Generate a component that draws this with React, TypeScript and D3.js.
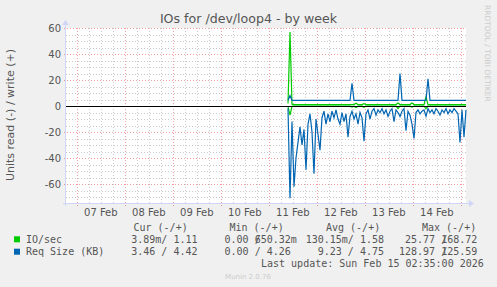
import React from "react";
import * as d3 from "d3";

const WIDTH = 497;
const HEIGHT = 287;

const endTime = new Date(Date.UTC(2026, 1, 15, 2, 35));
const startTime = new Date(endTime.getTime() - 200 * 3600 * 1000);
const dataStart = new Date(Date.UTC(2026, 1, 11, 9, 35));
const stepHours = 1;

// IO/sec write (+)
const ioWrite = [
  2, 57, 1.4, 1.1, 1.1, 1.1, 1.1, 1.1, 1.1, 1.1,
  1.1, 1.1, 1.1, 1.1, 1.1, 1.1, 1.1, 1.1, 1.1, 1.1,
  1.1, 1.1, 1.1, 1.1, 1.1, 1.1, 1.1, 1.1, 1.1, 1.1,
  1.1, 1.1, 1.1, 1.1, 2.2, 1.1, 1.1, 1.1, 1.8, 1.1,
  1.1, 1.1, 1.1, 1.1, 1.1, 1.1, 1.1, 1.1, 1.1, 1.1,
  1.1, 1.1, 1.1, 1.1, 1.1, 2.3, 1.1, 1.1, 1.1, 1.1,
  1.1, 1.1, 2.3, 1.1, 1.1, 1.1, 1.1, 1.1, 1.1, 7,
  1.1, 1.1, 1.1, 1.1, 1.1, 1.1, 1.1, 1.1, 1.1, 1.1,
  1.1, 1.1, 1.1, 1.1, 1.1, 1.1, 1.1, 1.1, 1.1, 1.1,
];
// IO/sec read (-), magnitudes
const ioRead = [
  0.5, 7, 0.2, 0.1, 0.1, 0.1, 0.1, 0.1, 0.1, 0.1,
  0.1, 0.1, 0.1, 0.1, 0.1, 0.1, 0.1, 0.1, 0.1, 0.1,
  0.1, 0.1, 0.1, 0.1, 0.1, 0.1, 0.1, 0.1, 0.1, 0.1,
  0.1, 0.1, 0.8, 0.1, 1.2, 0.1, 0.1, 0.1, 1, 0.1,
  0.1, 0.1, 0.1, 0.1, 0.1, 0.1, 0.1, 0.1, 0.1, 0.1,
  0.1, 0.1, 0.1, 0.1, 0.1, 2, 0.1, 0.1, 0.1, 0.1,
  0.1, 0.1, 0.8, 0.1, 0.1, 0.1, 0.1, 0.1, 0.1, 2,
  0.1, 0.1, 0.1, 0.1, 0.1, 0.1, 0.1, 0.1, 0.1, 0.1,
  0.1, 0.1, 0.1, 0.1, 0.1, 0.1, 0.1, 0.1, 0.1, 0.1,
];
// Req Size (KB) write (+)
const reqWrite = [
  4.4, 8, 4.4, 4.4, 4.4, 4.4, 4.4, 4.4, 4.4, 4.4,
  4.4, 4.4, 4.4, 4.4, 4.4, 4.4, 4.4, 4.4, 4.4, 4.4,
  4.4, 4.4, 4.4, 4.4, 4.4, 4.4, 4.4, 4.4, 4.4, 4.4,
  4.4, 4.4, 17.5, 4.4, 4.4, 4.4, 4.4, 4.4, 4.4, 4.4,
  4.4, 4.4, 4.4, 4.4, 4.4, 4.4, 4.4, 4.4, 4.4, 4.4,
  4.4, 4.4, 4.4, 4.4, 4.4, 4.4, 25, 4.4, 4.4, 4.4,
  4.4, 4.4, 4.4, 4.4, 4.4, 4.4, 4.4, 4.4, 4.4, 4.4,
  21, 4.4, 4.4, 4.4, 4.4, 4.4, 4.4, 4.4, 4.4, 4.4,
  4.4, 4.4, 4.4, 4.4, 4.4, 4.4, 4.4, 4.4, 4.4, 4.4,
];
// Req Size (KB) read (-), magnitudes
const reqRead = [
  2, 71, 12, 62, 40, 28, 16, 30, 18, 49,
  14, 6, 20, 52, 10, 22, 34, 9, 4, 14,
  6, 12, 4, 9, 3, 10, 14, 5, 12, 6,
  24, 8, 4, 10, 6, 14, 5, 9, 27, 6,
  3, 10, 4, 2, 7, 3, 5, 2, 6, 3,
  8, 4, 2, 12, 3, 5, 8, 4, 2, 19,
  4, 7, 14, 25, 5, 3, 6, 4, 3, 8,
  2, 5, 3, 6, 2, 4, 7, 3, 5, 2,
  6, 3, 5, 2, 4, 6, 28, 3, 24, 3,
];

const yTickValues = [60, 40, 20, 0, -20, -40, -60];
const dayTickLabels = ["07 Feb", "08 Feb", "09 Feb", "10 Feb", "11 Feb", "12 Feb", "13 Feb", "14 Feb"];
const legendHeaders = ["Cur (-/+)", "Min (-/+)", "Avg (-/+)", "Max (-/+)"];
const seriesNames = ["IO/sec", "Req Size (KB)"];
const seriesColors = ["#00cc00", "#0066b3"];
const ioStats = [["3.89m", "1.11"], ["0.00", "650.32m"], ["130.15m", "1.58"], ["25.77", "168.72"]];
const reqStats = [["3.46", "4.42"], ["0.00", "4.26"], ["9.23", "4.75"], ["128.97", "125.59"]];
const titleText = "IOs for /dev/loop4 - by week";
const yLabelText = "Units read (-) / write (+)";
const lastUpdateText = "Last update: Sun Feb 15 02:35:00 2026";
const versionText = "Munin 2.0.76";
const watermarkText = "RRDTOOL / TOBI OETIKER";

const PL = 66, PR = 466, PT = 28, PB = 203;
const FONT = "DejaVu Sans, sans-serif";
const MONO = "DejaVu Sans Mono, monospace";
const TXT = "#555";
const CW = 6.02;

export default function App() {
  const x = d3.scaleUtc().domain([startTime, endTime]).range([PL, PR]);
  const y = d3.scaleLinear().domain([-74.6, 60]).range([PB, PT]);
  const t = (i: number) => new Date(dataStart.getTime() + i * stepHours * 3600 * 1000);
  const line = d3.line<number>().x((_, i) => x(t(i))).y((d) => y(d));

  const minorY = d3.range(-70, 61, 5).filter((v) => v % 20 !== 0);
  const majorY = yTickValues.filter((v) => v !== 0);
  const days = d3.utcDay.range(startTime, endTime);
  const sixH = d3.utcHour.every(6)!.range(startTime, endTime).filter((d) => d.getUTCHours() !== 0);
  const labelDays = days.map((d) => new Date(d.getTime() + 12 * 3600 * 1000)).filter((d) => d < endTime);

  const snap = (v: number) => Math.round(v) + 0.5;
  const colEdges = [203.5, 296.8, 390, 483.3];

  const renderVal = (s: string, edge: number, key: string, yy: number) => {
    const hasM = s.endsWith("m");
    return (
      <text key={key} x={hasM ? edge : edge - CW} y={yy} textAnchor="end" fontFamily={MONO} fontSize={10} fill={TXT}>
        {s}
      </text>
    );
  };

  return (
    <svg width={WIDTH} height={HEIGHT} style={{ display: "block", position: "absolute", left: 0, top: 0 }}>
      <rect x={0} y={0} width={WIDTH} height={HEIGHT} fill="#f0f0f0" />
      <rect x={PL} y={PT} width={PR - PL} height={PB - PT} fill="#ffffff" />
      {/* minor grid */}
      {minorY.map((v) => (
        <line key={"my" + v} x1={PL} x2={PR} y1={snap(y(v))} y2={snap(y(v))} stroke="rgba(190,190,190,0.8)" strokeDasharray="1,2" />
      ))}
      {sixH.map((d) => (
        <line key={"mx" + d.getTime()} x1={snap(x(d))} x2={snap(x(d))} y1={PT} y2={PB + 2} stroke="rgba(190,190,190,0.8)" strokeDasharray="1,2" />
      ))}
      {/* major grid */}
      {majorY.map((v) => (
        <line key={"My" + v} x1={PL - 2} x2={PR} y1={snap(y(v))} y2={snap(y(v))} stroke="rgba(235,80,80,0.55)" strokeDasharray="1,2" />
      ))}
      {days.map((d) => (
        <line key={"Mx" + d.getTime()} x1={snap(x(d))} x2={snap(x(d))} y1={PT} y2={PB + 3} stroke="rgba(235,80,80,0.55)" strokeDasharray="1,2" />
      ))}
      {/* series */}
      <path d={line(ioRead.map((v) => -v)) || ""} fill="none" stroke={seriesColors[0]} strokeWidth={1.2} />
      <path d={line(ioWrite) || ""} fill="none" stroke={seriesColors[0]} strokeWidth={1.2} />
      <path d={line(reqRead.map((v) => -v)) || ""} fill="none" stroke={seriesColors[1]} strokeWidth={1.2} />
      <path d={line(reqWrite) || ""} fill="none" stroke={seriesColors[1]} strokeWidth={1.2} />
      {/* zero rule */}
      <line x1={PL} x2={PR} y1={snap(y(0))} y2={snap(y(0))} stroke="#000" strokeWidth={1} />
      {/* axes */}
      <line x1={PL - 0.5} x2={PL - 0.5} y1={PB + 3} y2={PT - 4} stroke="#cfd6f8" />
      <path d={`M${PL - 4},${PT - 3} L${PL - 0.5},${PT - 8} L${PL + 3},${PT - 3} Z`} fill="#cfd6f8" />
      <line x1={PL - 3} x2={PR + 4} y1={PB + 0.5} y2={PB + 0.5} stroke="#cfd6f8" />
      <path d={`M${PR + 3},${PB - 3} L${PR + 8},${PB + 0.5} L${PR + 3},${PB + 4} Z`} fill="#cfd6f8" />
      {/* y tick labels */}
      {yTickValues.map((v) => (
        <text key={"yl" + v} x={61} y={y(v) + 3.6} textAnchor="end" fontFamily={FONT} fontSize={10} fill={TXT}>
          {v}
        </text>
      ))}
      {/* x tick labels */}
      {labelDays.map((d, i) => (
        <text key={"xl" + i} x={x(d)} y={215.5} textAnchor="middle" fontFamily={FONT} fontSize={10} fill={TXT}>
          {dayTickLabels[i]}
        </text>
      ))}
      {/* title */}
      <text x={248.5} y={23} textAnchor="middle" fontFamily={FONT} fontSize={12.6} fill={TXT}>
        {titleText}
      </text>
      {/* y label */}
      <text transform="translate(14,115) rotate(-90)" textAnchor="middle" fontFamily={FONT} fontSize={11} fill={TXT}>
        {yLabelText}
      </text>
      {/* watermark */}
      <text transform="translate(485,5) rotate(90)" textAnchor="start" fontFamily={FONT} fontSize={7.5} fill="#cccccc">
        {watermarkText}
      </text>
      {/* legend */}
      {legendHeaders.map((h, i) => (
        <text key={"lh" + i} x={[133.5, 229.5, 326, 422][i]} y={230.5} fontFamily={MONO} fontSize={10} fill={TXT} style={{ whiteSpace: "pre" }}>
          {h}
        </text>
      ))}
      {[ioStats, reqStats].map((stats, r) => {
        const yy = 242.8 + r * 12.4;
        return (
          <g key={"row" + r}>
            <rect x={14} y={yy - 6.5} width={6} height={6} fill={seriesColors[r]} />
            <text x={26} y={yy} fontFamily={MONO} fontSize={10} fill={TXT} style={{ whiteSpace: "pre" }}>
              {seriesNames[r]}
            </text>
            {stats.map(([rd, wr], c) => {
              const edge = colEdges[c];
              const slashX = edge - 7 * CW;
              return (
                <g key={"c" + c}>
                  {renderVal(rd, slashX, "r", yy)}
                  <text x={slashX} y={yy} fontFamily={MONO} fontSize={10} fill={TXT}>/</text>
                  {renderVal(wr, edge, "w", yy)}
                </g>
              );
            })}
          </g>
        );
      })}
      <text x={261} y={267} fontFamily={MONO} fontSize={10} fill={TXT} style={{ whiteSpace: "pre" }}>
        {lastUpdateText}
      </text>
      <text x={248} y={278.5} textAnchor="middle" fontFamily={FONT} fontSize={7} fill="#cccccc">
        {versionText}
      </text>
    </svg>
  );
}
